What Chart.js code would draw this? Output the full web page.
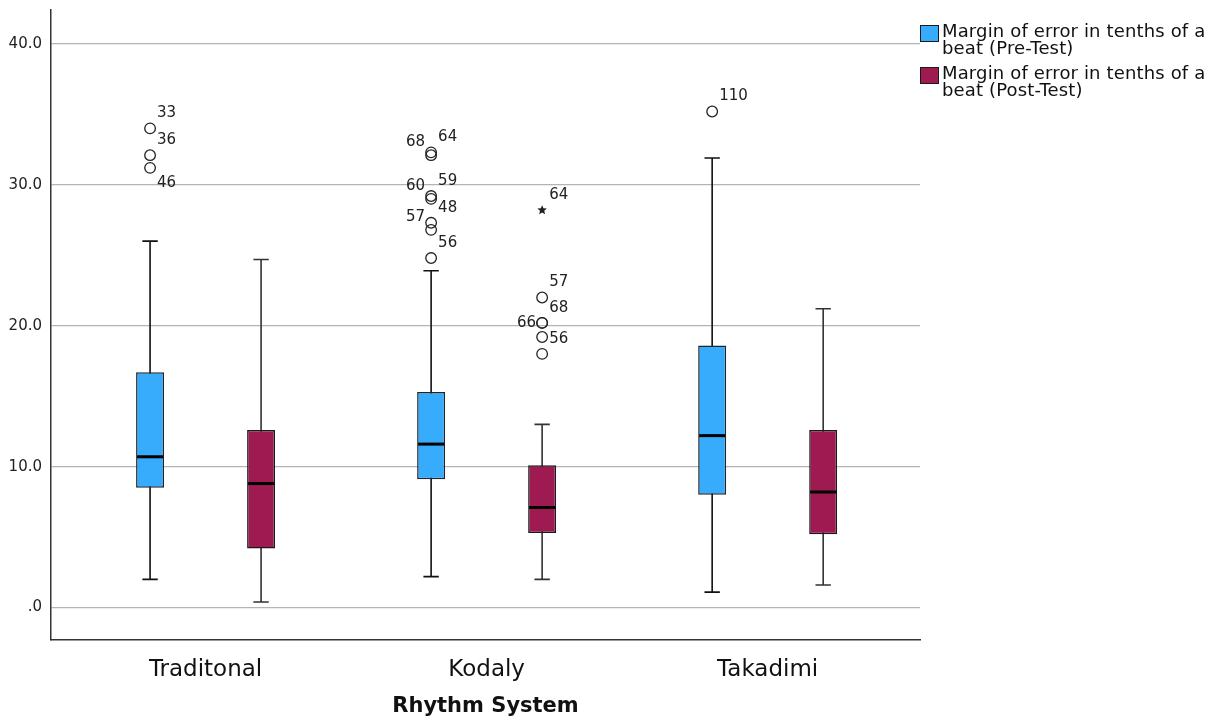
<!DOCTYPE html>
<html>
<head>
<meta charset="utf-8">
<script src="https://cdn.jsdelivr.net/npm/chart.js@4.4.1/dist/chart.umd.min.js"></script>
<style>
  body { margin: 0; background: #fff; }
  #wrap { position: relative; width: 1217px; height: 723px; }
  #legend { position: absolute; left: 920px; top: 22px; font-family: "DejaVu Sans", sans-serif; font-size: 18px; color: #111; }
  .item { display: flex; align-items: flex-start; margin-bottom: 8px; }
  .swatch { width: 17px; height: 15px; border: 1.5px solid #1a1a1a; margin-right: 3px; margin-top: 3px; flex: none; }
  .txt { line-height: 17px; width: 292px; letter-spacing: 0.15px; }
</style>
</head>
<body>
<div id="wrap">
  <canvas id="graph" width="1217" height="723"></canvas>
  <div id="legend"></div>
</div>
<script>
// Catégories et séries
const categories = ['Traditonal', 'Kodaly', 'Takadimi'];
const seriesNames = [
    'Margin of error in tenths of a beat (Pre-Test)',
    'Margin of error in tenths of a beat (Post-Test)'
];

// Boîtes : min, Q1, médiane, Q3, max (moustaches)
const preMin = [2.0, 2.2, 1.1];
const preQ1 = [8.5, 9.1, 8.0];
const preMedian = [10.7, 11.6, 12.2];
const preQ3 = [16.7, 15.3, 18.6];
const preMax = [26.0, 23.9, 31.9];

const postMin = [0.4, 2.0, 1.6];
const postQ1 = [4.2, 5.3, 5.2];
const postMedian = [8.8, 7.1, 8.2];
const postQ3 = [12.6, 10.1, 12.6];
const postMax = [24.7, 13.0, 21.2];

// Valeurs aberrantes (cercles) et extrêmes (étoiles) avec numéros de cas
const preOutliers = [[34.0, 32.1, 31.2], [32.3, 32.1, 29.2, 29.0, 27.3, 26.8, 24.8], [35.2]];
const preOutlierIds = [['33', '36', '46'], ['64', '68', '59', '60', '48', '57', '56'], ['110']];
const postOutliers = [[], [22.0, 20.2, 20.2, 19.2, 18.0], []];
const postOutlierIds = [[], ['57', '68', '66', '56', ''], []];
const postExtremes = [[], [28.2], []];
const postExtremeIds = [[], ['64'], []];

// Ticks de l'axe Y
const yTicks = [0, 10, 20, 30, 40];

// Placement des étiquettes (style seulement)
const preLabelSide = [['ne', 'ne', 'se'], ['ne', 'nw', 'ne', 'nw', 'ne', 'nw', 'ne'], ['ne']];
const postLabelSide = [[], ['ne', 'ne', 'w', 'e', 'e'], []];
const postExtremeSide = [[], ['ne'], []];

const colors = ['#37acfd', '#9e1a50'];
const stats = [
    { min: preMin, med: preMedian, max: preMax, out: preOutliers, ids: preOutlierIds, side: preLabelSide, ext: [[], [], []], extIds: [[], [], []], extSide: [[], [], []], whisker: '#111' },
    { min: postMin, med: postMedian, max: postMax, out: postOutliers, ids: postOutlierIds, side: postLabelSide, ext: postExtremes, extIds: postExtremeIds, extSide: postExtremeSide, whisker: '#333' }
];

const offsets = {
    ne: [7, -15, 'left'], nw: [-6, -13, 'right'], se: [7, 15, 'left'],
    e: [7, 2, 'left'], w: [-6, 0, 'right']
};

function drawStar(ctx, x, y, r) {
    ctx.beginPath();
    for (let k = 0; k < 10; k++) {
        const a = -Math.PI / 2 + k * Math.PI / 5;
        const rr = k % 2 === 0 ? r : r * 0.45;
        ctx.lineTo(x + rr * Math.cos(a), y + rr * Math.sin(a));
    }
    ctx.closePath();
    ctx.fill();
}

// Plugin : moustaches, médianes et points aberrants
const boxplotPlugin = {
    id: 'boxplot',
    beforeDatasetsDraw(chart) {
        const ctx = chart.ctx;
        const y = chart.scales.y;
        stats.forEach((s, d) => {
            chart.getDatasetMeta(d).data.forEach((bar, i) => {
                const cap = bar.width * 0.55 / 2;
                ctx.save();
                ctx.strokeStyle = s.whisker;
                ctx.lineWidth = 1.6;
                ctx.beginPath();
                ctx.moveTo(bar.x, y.getPixelForValue(s.max[i]));
                ctx.lineTo(bar.x, y.getPixelForValue(s.min[i]));
                ctx.moveTo(bar.x - cap, y.getPixelForValue(s.max[i]));
                ctx.lineTo(bar.x + cap, y.getPixelForValue(s.max[i]));
                ctx.moveTo(bar.x - cap, y.getPixelForValue(s.min[i]));
                ctx.lineTo(bar.x + cap, y.getPixelForValue(s.min[i]));
                ctx.stroke();
                ctx.restore();
            });
        });
    },
    afterDatasetsDraw(chart) {
        const ctx = chart.ctx;
        const y = chart.scales.y;
        stats.forEach((s, d) => {
            chart.getDatasetMeta(d).data.forEach((bar, i) => {
                const half = bar.width / 2;
                ctx.save();
                // médiane
                ctx.strokeStyle = '#000';
                ctx.lineWidth = 3;
                ctx.beginPath();
                ctx.moveTo(bar.x - half + 1, y.getPixelForValue(s.med[i]));
                ctx.lineTo(bar.x + half - 1, y.getPixelForValue(s.med[i]));
                ctx.stroke();

                ctx.font = '15px "DejaVu Sans", sans-serif';
                ctx.fillStyle = '#222';
                ctx.textBaseline = 'middle';
                const label = (txt, px, py, side) => {
                    if (!txt) return;
                    const o = offsets[side];
                    ctx.textAlign = o[2];
                    ctx.fillText(txt, px + o[0], py + o[1]);
                };
                // cercles
                ctx.strokeStyle = '#222';
                ctx.lineWidth = 1.3;
                s.out[i].forEach((v, k) => {
                    const py = y.getPixelForValue(v);
                    ctx.beginPath();
                    ctx.arc(bar.x, py, 5.3, 0, Math.PI * 2);
                    ctx.stroke();
                    label(s.ids[i][k], bar.x, py, s.side[i][k]);
                });
                // étoiles
                s.ext[i].forEach((v, k) => {
                    const py = y.getPixelForValue(v);
                    drawStar(ctx, bar.x, py, 5);
                    label(s.extIds[i][k], bar.x, py, s.extSide[i][k]);
                });
                ctx.restore();
            });
        });
    }
};

const ctx = document.getElementById('graph').getContext('2d');

const chart = new Chart(ctx, {
    type: 'bar',
    data: {
        labels: categories,
        datasets: [
            {
                label: seriesNames[0],
                data: categories.map((c, i) => [preQ1[i], preQ3[i]]),
                backgroundColor: colors[0],
                borderColor: '#1c2630',
                borderWidth: 1.5,
                borderSkipped: false,
                categoryPercentage: 0.79,
                barPercentage: 0.252
            },
            {
                label: seriesNames[1],
                data: categories.map((c, i) => [postQ1[i], postQ3[i]]),
                backgroundColor: colors[1],
                borderColor: '#1a1a1a',
                borderWidth: 1.5,
                borderSkipped: false,
                categoryPercentage: 0.79,
                barPercentage: 0.252
            }
        ]
    },
    options: {
        responsive: false,
        animation: false,
        devicePixelRatio: 1,
        layout: { padding: { left: 0, right: 297, top: 10, bottom: 0 } },
        plugins: {
            legend: { display: false },
            tooltip: { enabled: false }
        },
        scales: {
            x: {
                offset: false,
                // marges des catégories comme dans SPSS
                afterBuildTicks(scale) {
                    scale._startValue = -0.55;
                    scale._valueRange = 3.092;
                },
                grid: { display: false },
                border: { display: true, color: '#333', width: 1.5 },
                ticks: {
                    color: '#111',
                    padding: 8,
                    font: { family: '"DejaVu Sans", sans-serif', size: 23 }
                },
                title: {
                    display: true,
                    text: 'Rhythm System',
                    color: '#111',
                    padding: { top: 0, bottom: 4 },
                    font: { family: '"DejaVu Sans", sans-serif', size: 21, weight: 'bold' }
                },
                afterFit(scale) {
                    scale.height = 83;
                    scale.paddingLeft = 0;
                    scale.paddingRight = 0;
                }
            },
            y: {
                min: -2.3,
                max: 42.4,
                afterBuildTicks(scale) { scale.ticks = yTicks.map(v => ({ value: v })); },
                grid: { color: '#b4b4b4', lineWidth: 1.3, drawTicks: false },
                border: { color: '#333', width: 1.5 },
                ticks: {
                    color: '#222',
                    padding: 9,
                    font: { family: '"DejaVu Sans", sans-serif', size: 15 },
                    callback: v => v === 0 ? '.0' : v.toFixed(1)
                },
                afterFit(scale) {
                    scale.width = 51;
                    scale.paddingTop = 0;
                    scale.paddingBottom = 0;
                }
            }
        }
    },
    plugins: [boxplotPlugin]
});

// Légende HTML à droite
document.getElementById('legend').innerHTML = seriesNames.map((n, i) =>
    '<div class="item"><span class="swatch" style="background:' + colors[i] + '"></span>' +
    '<div class="txt">' + n.replace(' beat', '<br>beat') + '</div></div>'
).join('');
</script>
</body>
</html>
